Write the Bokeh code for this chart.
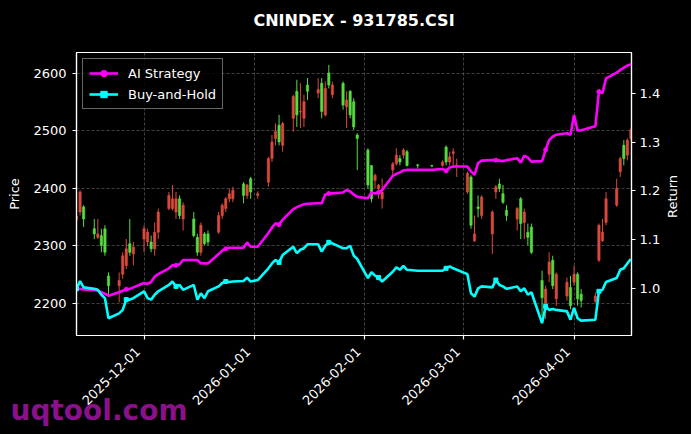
import math
import pandas as pd
from bokeh.plotting import figure
from bokeh.models import (ColumnDataSource, Range1d, LinearAxis, FixedTicker, Label,
                          DatetimeTickFormatter, NumeralTickFormatter, Title)
from bokeh.embed import file_html
from bokeh.resources import INLINE

# ---------------- data ----------------
dates = [
    "2025-11-12", "2025-11-13", "2025-11-14", "2025-11-17", "2025-11-18", "2025-11-19", "2025-11-20", "2025-11-21",
    "2025-11-24", "2025-11-25", "2025-11-26", "2025-11-27", "2025-11-28",
    "2025-12-01", "2025-12-02", "2025-12-03", "2025-12-04", "2025-12-05",
    "2025-12-08", "2025-12-09", "2025-12-10", "2025-12-11", "2025-12-12",
    "2025-12-15", "2025-12-16", "2025-12-17", "2025-12-18", "2025-12-19",
    "2025-12-22", "2025-12-23", "2025-12-24", "2025-12-25", "2025-12-26",
    "2025-12-29", "2025-12-30", "2025-12-31", "2026-01-02",
    "2026-01-05", "2026-01-06", "2026-01-07", "2026-01-08", "2026-01-09",
    "2026-01-12", "2026-01-13", "2026-01-14", "2026-01-15", "2026-01-16",
    "2026-01-19", "2026-01-20", "2026-01-21", "2026-01-22", "2026-01-23",
    "2026-01-26", "2026-01-27", "2026-01-28", "2026-01-29", "2026-01-30",
    "2026-02-02", "2026-02-03", "2026-02-04", "2026-02-05", "2026-02-06",
    "2026-02-09", "2026-02-10", "2026-02-11", "2026-02-12", "2026-02-13",
    "2026-02-16", "2026-02-20",
    "2026-02-23", "2026-02-24", "2026-02-25", "2026-02-26", "2026-02-27",
    "2026-03-02", "2026-03-03", "2026-03-04", "2026-03-05", "2026-03-06",
    "2026-03-09", "2026-03-10", "2026-03-11", "2026-03-12", "2026-03-13",
    "2026-03-16", "2026-03-17", "2026-03-18", "2026-03-19", "2026-03-20",
    "2026-03-23", "2026-03-24", "2026-03-25", "2026-03-26", "2026-03-27",
    "2026-03-30", "2026-03-31", "2026-04-01", "2026-04-02", "2026-04-03",
    "2026-04-07", "2026-04-08", "2026-04-09", "2026-04-10",
    "2026-04-13", "2026-04-14", "2026-04-15", "2026-04-16", "2026-04-17",
]

open_price = [
    2345, 2359, 2368, 2330, 2315, 2318, 2330, 2248,
    2231, 2251, 2266, 2304, 2286,
    2312, 2307, 2307, 2295, 2324,
    2365, 2365, 2359, 2382, 2347,
    2347, 2315, 2289, 2321, 2321,
    2324, 2353, 2365, 2382, 2382,
    2408, 2388, 2417, 2388,
    2411, 2452, 2487, 2510, 2475,
    2522, 2569, 2533, 2522, 2580,
    2566, 2583, 2528, 2601, 2563,
    2583, 2542, 2569, 2551, 2493,
    2467, 2440, 2414, 2400, 2382,
    2432, 2443, 2452, 2458, 2464,
    2441, 2440,
    2440, 2472, 2446, 2461, 2438,
    2394, 2420, 2309, 2368, 2353,
    2321, 2394, 2408, 2391, 2362,
    2347, 2382, 2341, 2324, 2333,
    2240, 2196, 2251, 2275, 2208,
    2213, 2228, 2237, 2251, 2216,
    2204, 2275, 2309, 2341,
    2371, 2429, 2475, 2458, 2487,
]

high_price = [
    2360, 2397, 2371, 2347, 2347, 2330, 2336, 2254,
    2254, 2289, 2312, 2347, 2307,
    2336, 2330, 2318, 2341, 2365,
    2394, 2406, 2394, 2388, 2376,
    2359, 2321, 2341, 2324, 2327,
    2359, 2374, 2385, 2400, 2403,
    2411, 2408, 2420, 2395,
    2455, 2493, 2513, 2528, 2516,
    2563, 2589, 2583, 2563, 2592,
    2592, 2592, 2586, 2615, 2586,
    2586, 2569, 2571, 2557, 2496,
    2470, 2440, 2426, 2408, 2417,
    2446, 2470, 2458, 2470, 2467,
    2443, 2441,
    2449, 2475, 2464, 2470, 2452,
    2429, 2423, 2353, 2388, 2388,
    2362, 2406, 2417, 2406, 2371,
    2368, 2385, 2365, 2339, 2339,
    2257, 2231, 2289, 2283, 2254,
    2245, 2248, 2266, 2254, 2225,
    2219, 2339, 2347, 2394,
    2417, 2455, 2484, 2487, 2505,
]

low_price = [
    2338, 2353, 2333, 2312, 2312, 2289, 2283, 2213,
    2202, 2243, 2260, 2283, 2266,
    2289, 2300, 2289, 2283, 2312,
    2362, 2362, 2347, 2347, 2327,
    2315, 2283, 2283, 2301, 2301,
    2321, 2347, 2359, 2376, 2376,
    2374, 2382, 2382, 2382,
    2403, 2446, 2475, 2475, 2464,
    2499, 2507, 2505, 2507, 2554,
    2557, 2522, 2525, 2574, 2557,
    2537, 2505, 2522, 2502, 2432,
    2400, 2376, 2400, 2382, 2365,
    2423, 2440, 2440, 2452, 2438,
    2435, 2437,
    2438, 2440, 2440, 2438, 2420,
    2391, 2330, 2307, 2350, 2347,
    2286, 2382, 2394, 2373, 2344,
    2327, 2312, 2312, 2301, 2286,
    2178, 2173, 2237, 2225, 2196,
    2205, 2190, 2231, 2196, 2193,
    2200, 2272, 2307, 2336,
    2368, 2420, 2440, 2449, 2484,
]

close_price = [
    2352, 2394, 2347, 2321, 2321, 2301, 2289, 2231,
    2240, 2283, 2295, 2289, 2298,
    2330, 2324, 2295, 2324, 2359,
    2388, 2382, 2382, 2353, 2371,
    2318, 2289, 2336, 2304, 2307,
    2353, 2371, 2382, 2391, 2397,
    2388, 2406, 2394, 2391,
    2452, 2481, 2499, 2481, 2513,
    2560, 2528, 2534, 2551, 2569,
    2572, 2534, 2574, 2580, 2580,
    2545, 2554, 2528, 2507, 2487,
    2406, 2382, 2423, 2406, 2394,
    2443, 2458, 2446, 2467, 2440,
    2440, 2439,
    2446, 2446, 2455, 2464, 2441,
    2426, 2336, 2321, 2365, 2385,
    2359, 2403, 2400, 2376, 2353,
    2365, 2339, 2359, 2315, 2289,
    2210, 2225, 2272, 2231, 2251,
    2237, 2196, 2251, 2208, 2205,
    2213, 2336, 2324, 2382,
    2400, 2452, 2452, 2484, 2502,
]

ai_strategy = [
    1.000, 1.000, 0.999, 0.997, 0.996, 0.993, 0.990, 0.986,
    0.993, 0.996, 0.999, 1.000, 1.003,
    1.012, 1.010, 1.014, 1.025, 1.030,
    1.042, 1.048, 1.048, 1.050, 1.059,
    1.059, 1.059, 1.052, 1.052, 1.052,
    1.071, 1.078, 1.082, 1.084, 1.084,
    1.084, 1.095, 1.086, 1.086,
    1.114, 1.125, 1.134, 1.131, 1.141,
    1.163, 1.167, 1.170, 1.173, 1.174,
    1.175, 1.175, 1.193, 1.195, 1.195,
    1.197, 1.202, 1.199, 1.193, 1.188,
    1.185, 1.197, 1.195, 1.197, 1.202,
    1.231, 1.235, 1.238, 1.242, 1.243,
    1.243, 1.243,
    1.245, 1.241, 1.248, 1.250, 1.250,
    1.250, 1.240, 1.233, 1.257, 1.262,
    1.263, 1.263, 1.262, 1.261, 1.263,
    1.267, 1.258, 1.272, 1.268, 1.260,
    1.261, 1.284, 1.304, 1.311, 1.315,
    1.318, 1.315, 1.355, 1.323, 1.324,
    1.332, 1.403, 1.400, 1.430,
    1.442, 1.447, 1.452, 1.456, 1.459,
]

buy_and_hold = [
    1.000, 1.016, 1.003, 1.000, 0.998, 0.988, 0.981, 0.940,
    0.950, 0.957, 0.978, 0.978, 0.981,
    0.995, 0.981, 0.978, 0.988, 0.995,
    1.008, 1.015, 1.005, 1.008, 0.998,
    1.008, 0.978, 0.991, 0.981, 0.995,
    1.005, 1.012, 1.015, 1.014, 1.015,
    1.016, 1.023, 1.015, 1.018,
    1.042, 1.052, 1.059, 1.054, 1.069,
    1.086, 1.073, 1.080, 1.083, 1.091,
    1.091, 1.076, 1.088, 1.095, 1.093,
    1.083, 1.083, 1.088, 1.068, 1.061,
    1.022, 1.034, 1.027, 1.023, 1.015,
    1.035, 1.044, 1.039, 1.047, 1.039,
    1.037, 1.037,
    1.037, 1.042, 1.046, 1.042, 1.039,
    1.030, 0.991, 0.984, 1.001, 1.005,
    1.003, 1.018, 1.008, 1.005, 1.000,
    1.005, 0.995, 1.001, 0.988, 0.993,
    0.930, 0.964, 0.957, 0.959, 0.957,
    0.954, 0.937, 0.961, 0.940, 0.935,
    0.937, 0.995, 0.998, 1.014,
    1.022, 1.039, 1.042, 1.052, 1.061,
]

month_ticks = ["2025-12-01", "2026-01-01", "2026-02-01", "2026-03-01", "2026-04-01"]
price_ticks = [2200, 2300, 2400, 2500, 2600]
return_ticks = [1.0, 1.1, 1.2, 1.3, 1.4]

# ---------------- styling ----------------
UP_COLOR = "#d94a3d"
DOWN_COLOR = "#56dc41"
FONT = "DejaVu Sans"
DAY_MS = 86400000

dt = pd.to_datetime(dates)
is_up = [c >= o for o, c in zip(open_price, close_price)]
src = ColumnDataSource(dict(
    date=dt,
    high=high_price,
    low=low_price,
    top=[max(o, c) for o, c in zip(open_price, close_price)],
    bottom=[min(o, c) for o, c in zip(open_price, close_price)],
    color=[UP_COLOR if u else DOWN_COLOR for u in is_up],
    ai=ai_strategy,
    bh=buy_and_hold,
))
mark = ColumnDataSource(dict(date=dt[::10], ai=ai_strategy[::10], bh=buy_and_hold[::10]))

x_start = pd.Timestamp(dates[0])
x_end = pd.Timestamp(dates[-1]) + pd.Timedelta(hours=4)

p = figure(width=691, height=434, x_axis_type="datetime",
           x_range=Range1d(x_start, x_end), y_range=Range1d(2144.3, 2636.5),
           output_backend="svg", toolbar_location=None,
           min_border_left=76, min_border_right=60, min_border_top=52, min_border_bottom=99,
           background_fill_color="black", border_fill_color="black",
           outline_line_color="white", outline_line_width=1.2)
p.title.text = ""

# spacer (closest to the frame) then the real title above it
p.add_layout(Title(text=" ", text_font_size="2px", standoff=14), "above")
p.add_layout(Title(text="CNINDEX - 931785.CSI", align="center", text_color="white",
                   text_font=FONT, text_font_size="16px", text_font_style="bold",
                   standoff=10), "above")

# left axis
yl = p.yaxis[0]
yl.ticker = FixedTicker(ticks=price_ticks)
yl.axis_label = "Price"

# right axis (its title is a rotated label in the right panel, reading bottom-up)
p.extra_y_ranges = {"ret": Range1d(0.9047, 1.4829)}
yr = LinearAxis(y_range_name="ret",
                ticker=FixedTicker(ticks=return_ticks),
                formatter=NumeralTickFormatter(format="0.0"))
p.add_layout(yr, "right")
p.add_layout(Label(x=9, y=139, x_units="screen", y_units="screen", text="Return",
                   angle=math.pi / 2, text_align="center", text_baseline="middle",
                   text_color="white", text_font=FONT, text_font_size="13px"), "right")

fmt = "%Y-%m-%d"
date_fmt = DatetimeTickFormatter(days=fmt, months=fmt, years=fmt, hours=fmt,
                                 minutes=fmt, seconds=fmt, milliseconds=fmt)
tick_ms = [pd.Timestamp(t).value // 10**6 for t in month_ticks]

# bottom axis: tick marks at the month starts (minor ticks), labels anchored
# slightly before them, like matplotlib's rotated ha="right" labels
label_shift = int(1.69 * DAY_MS)
label_ms = [t - label_shift for t in tick_ms]
xa = p.xaxis[0]
xa.ticker = FixedTicker(ticks=label_ms, minor_ticks=tick_ms)
xa.formatter = date_fmt
xa.major_label_overrides = {lm: t for lm, t in zip(label_ms, month_ticks)}
xa.major_label_orientation = math.pi / 4
xa.major_label_standoff = 10
xa.major_label_text_font_size = "13px"
xa.major_tick_line_color = None
xa.major_tick_out = 0
xa.major_tick_in = 0
xa.minor_tick_line_color = "white"
xa.minor_tick_line_width = 1.2
xa.minor_tick_out = 4
xa.minor_tick_in = 0

for ax in [xa, yl, yr]:
    ax.axis_line_color = "white"
    ax.axis_line_width = 1.2
    ax.major_label_text_color = "white"
    ax.major_label_text_font = FONT
    ax.axis_label_text_color = "white"
    ax.axis_label_text_font = FONT
    ax.axis_label_text_font_size = "13px"
    ax.axis_label_text_font_style = "normal"
for ax in [yl, yr]:
    ax.major_tick_line_color = "white"
    ax.major_tick_line_width = 1.2
    ax.major_tick_out = 4
    ax.major_tick_in = 0
    ax.minor_tick_line_color = None
    ax.major_label_text_font_size = "13px"
    ax.major_label_standoff = 4
yl.major_label_standoff = 6
yl.axis_label_standoff = 8

p.xgrid.ticker = FixedTicker(ticks=tick_ms)
for g in [p.xgrid, p.ygrid]:
    g.grid_line_color = "#5e5e5e"
    g.grid_line_dash = "3 2"
    g.grid_line_width = 0.7

# candles
p.segment(x0="date", y0="high", x1="date", y1="low", color="color", line_width=1, source=src)
p.vbar(x="date", width=0.65 * DAY_MS, top="top", bottom="bottom",
       fill_color="color", line_color="color", line_width=0.6, source=src)

# return lines
p.line("date", "ai", source=src, y_range_name="ret", color="#ff00ff", line_width=2.6,
       legend_label="AI Strategy")
p.scatter("date", "ai", source=mark, y_range_name="ret", marker="circle", size=4,
          color="#ff00ff", legend_label="AI Strategy")
p.line("date", "bh", source=src, y_range_name="ret", color="#00ffff", line_width=2.6,
       legend_label="Buy-and-Hold")
p.scatter("date", "bh", source=mark, y_range_name="ret", marker="square", size=4,
          color="#00ffff", legend_label="Buy-and-Hold")

lg = p.legend[0]
lg.location = "top_left"
lg.margin = 6
lg.padding = 6
lg.spacing = 5
lg.glyph_width = 29
lg.glyph_height = 16
lg.label_height = 16
lg.label_standoff = 10
lg.label_text_color = "white"
lg.label_text_font = FONT
lg.label_text_font_size = "13px"
lg.background_fill_color = "black"
lg.background_fill_alpha = 0.8
lg.border_line_color = "#cccccc"
lg.border_line_width = 1

# watermark, placed in the bottom panel so it is not clipped by the frame
p.add_layout(Title(text="uqtool.com", align="left", vertical_align="top", offset=-66,
                   standoff=-37, text_color="#8a118a", text_font=FONT,
                   text_font_size="28px", text_font_style="bold"), "below")

open("out.html", "w").write(
    file_html(p, INLINE).replace("</head>", "<style>html,body{background:#000;}</style></head>", 1))
